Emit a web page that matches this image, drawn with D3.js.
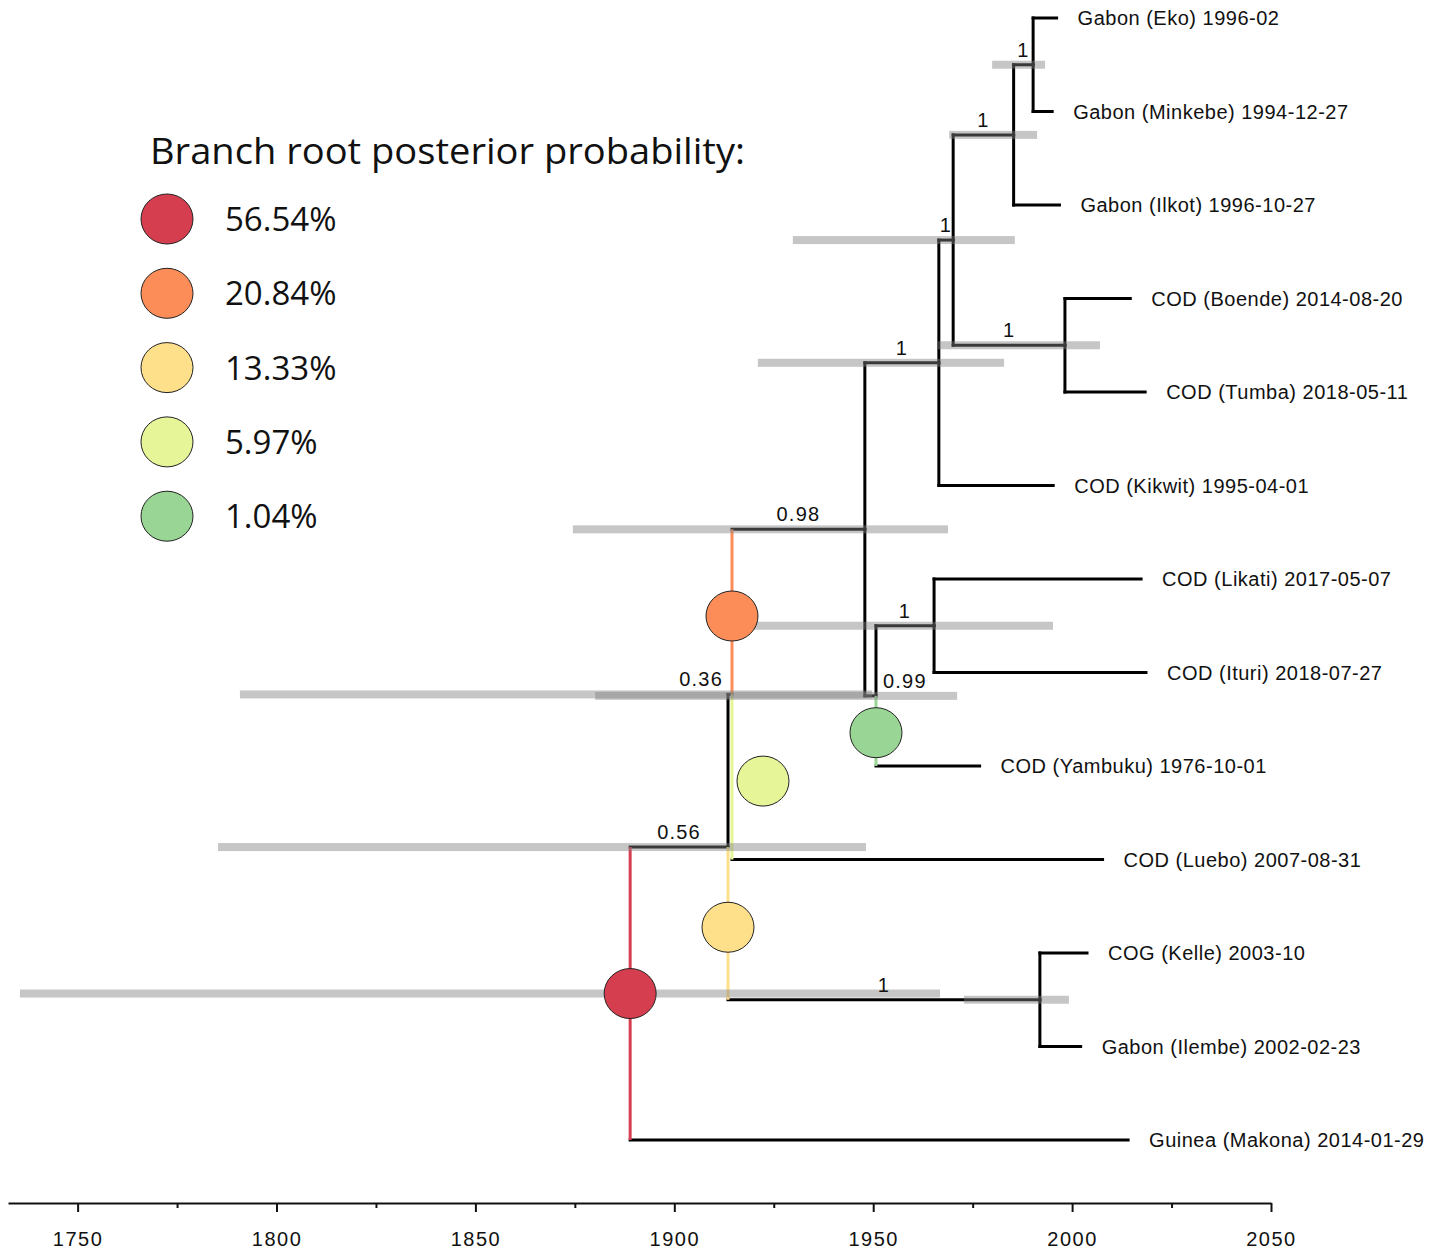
<!DOCTYPE html>
<html>
<head>
<meta charset="utf-8">
<script src="https://cdn.jsdelivr.net/npm/d3@7"></script>
<style>
  body { margin: 0; background: #fff; }
  .tip-label { font-family: Arial, "Liberation Sans", sans-serif; font-size: 20px; letter-spacing: 0.5px; fill: #111; }
  .post-label { font-family: Arial, "Liberation Sans", sans-serif; font-size: 20px; letter-spacing: 1.2px; fill: #111; }
  .axis text { font-family: Arial, "Liberation Sans", sans-serif; font-size: 20px; letter-spacing: 1.5px; fill: #111; }
  .axis path, .axis line { stroke: #111; stroke-width: 2px; }
</style>
</head>
<body>
<div class="chart"></div>
<script>
// Time-scaled tree, root position probabilities

// tips, top to bottom
var tipIds = ["Eko", "Minkebe", "Ilkot", "Boende", "Tumba", "Kikwit", "Likati", "Ituri", "Yambuku", "Luebo", "Kelle", "Ilembe", "Makona"];
var tipLabels = ["Gabon (Eko) 1996-02", "Gabon (Minkebe) 1994-12-27", "Gabon (Ilkot) 1996-10-27",
    "COD (Boende) 2014-08-20", "COD (Tumba) 2018-05-11", "COD (Kikwit) 1995-04-01",
    "COD (Likati) 2017-05-07", "COD (Ituri) 2018-07-27", "COD (Yambuku) 1976-10-01",
    "COD (Luebo) 2007-08-31", "COG (Kelle) 2003-10", "Gabon (Ilembe) 2002-02-23",
    "Guinea (Makona) 2014-01-29"];
var tipYears = [1996.1, 1994.99, 1996.82, 2014.63, 2018.36, 1995.25, 2017.35, 2018.57, 1976.75, 2007.66, 2003.75, 2002.15, 2014.08];

// internal nodes
var nodeIds = ["EM", "EMI", "GBT", "BT", "K", "N098", "LI", "D", "C", "B", "KI", "root"];
var nodeYears = [1990.2, 1985.3, 1970.1, 1998.2, 1966.5, 1947.9, 1965.3, 1950.7, 1914.5, 1913.5, 1991.9, 1888.9];
var nodeChildren = [["Eko", "Minkebe"], ["EM", "Ilkot"], ["EMI", "BT"], ["Boende", "Tumba"], ["GBT", "Kikwit"],
    ["K", "D"], ["Likati", "Ituri"], ["LI", "Yambuku"], ["N098", "Luebo"], ["C", "KI"], ["Kelle", "Ilembe"], ["B", "Makona"]];
var hpdLow = [1979.9, 1969.1, 1929.8, 1966.3, 1921.0, 1874.5, 1917.8, 1880.1, 1790.8, 1785.3, 1972.8, 1735.5];
var hpdHigh = [1993.2, 1991.2, 1985.6, 2007.0, 1982.9, 1968.8, 1995.2, 1971.1, 1949.7, 1948.2, 1999.2, 1966.8];
var posterior = ["1", "1", "1", "1", "1", "0.98", "1", "0.99", "0.36", "0.56", "1", ""];

// root position probabilities
var rootProbs = ["56.54%", "20.84%", "13.33%", "5.97%", "1.04%"];
var rootColors = ["#d53e4f", "#fc8d59", "#fee08b", "#e6f598", "#99d594"];
var rootSegNode = ["root", "C", "B", "C", "D"];
var rootSegChild = [null, "N098", "KI", "Luebo", "Yambuku"];

var axisMajor = [1750, 1800, 1850, 1900, 1950, 2000, 2050];
var axisMinor = [1775, 1825, 1875, 1925, 1975, 2025];

var svgWidth = 1448;
var svgHeight = 1251;

var svg = d3.select(".chart")
    .append("svg")
    .attr("width", svgWidth)
    .attr("height", svgHeight);

var xScale = d3.scaleLinear().domain([1732.5, 2050]).range([8, 1271]);
var yScale = d3.scalePoint().domain(tipIds).range([18, 1140]);

// build the node lookup
var nodes = {};
tipIds.forEach(function(id, i) {
    nodes[id] = { id: id, year: tipYears[i], label: tipLabels[i], tip: true, y: yScale(id) };
});
nodeIds.forEach(function(id, i) {
    nodes[id] = { id: id, year: nodeYears[i], children: nodeChildren[i], lo: hpdLow[i], hi: hpdHigh[i], post: posterior[i], tip: false };
});
nodeIds.forEach(function(id) {
    nodes[id].children.forEach(function(c) { nodes[c].parent = id; });
});

// y of an internal node = mean of its children
function nodeY(id) {
    var n = nodes[id];
    if (n.y === undefined) n.y = (nodeY(n.children[0]) + nodeY(n.children[1])) / 2;
    return n.y;
}
nodeY("root");

function segColor(nodeId, childId) {
    for (var i = 0; i < rootSegNode.length; i++) {
        if (rootSegNode[i] === nodeId && (rootSegChild[i] === null || rootSegChild[i] === childId)) return rootColors[i];
    }
    return "#000";
}

var branches = svg.append("g");

// horizontal branches
Object.keys(nodes).forEach(function(id) {
    var n = nodes[id];
    if (!n.parent) return;
    branches.append("line")
        .attr("x1", xScale(nodes[n.parent].year))
        .attr("x2", xScale(n.year))
        .attr("y1", n.y)
        .attr("y2", n.y)
        .attr("stroke", "#000")
        .attr("stroke-width", 3)
        .attr("stroke-linecap", "square");
});

// vertical connectors, drawn as two halves so they can carry root colours
nodeIds.forEach(function(id) {
    var n = nodes[id];
    n.children.forEach(function(c) {
        var col = segColor(id, c);
        branches.append("line")
            .attr("x1", xScale(n.year))
            .attr("x2", xScale(n.year))
            .attr("y1", n.y)
            .attr("y2", nodes[c].y)
            .attr("stroke", col)
            .attr("stroke-width", 3)
            .attr("stroke-linecap", col === "#000" ? "square" : "butt");
    });
});

// HPD bars
svg.append("g").selectAll("rect")
    .data(nodeIds)
    .enter()
    .append("rect")
    .attr("x", function(id) { return xScale(nodes[id].lo); })
    .attr("width", function(id) { return xScale(nodes[id].hi) - xScale(nodes[id].lo); })
    .attr("y", function(id) { return nodes[id].y - 4; })
    .attr("height", 8)
    .attr("fill", "#808080")
    .attr("fill-opacity", 0.45);

// posterior labels
var labelAnchor = { D: "start", C: "end" };
svg.append("g").selectAll("text")
    .data(nodeIds.filter(function(id) { return nodes[id].post !== ""; }))
    .enter()
    .append("text")
    .attr("class", "post-label")
    .attr("x", function(id) {
        var n = nodes[id], px = xScale(nodes[n.parent].year), nx = xScale(n.year);
        if (labelAnchor[id] === "start") return nx + 7;
        if (labelAnchor[id] === "end") return px - 5;
        return (px + nx) / 2;
    })
    .attr("y", function(id) { return nodes[id].y - 8; })
    .attr("text-anchor", function(id) { return labelAnchor[id] || "middle"; })
    .text(function(id) { return nodes[id].post; });

// tip labels
svg.append("g").selectAll("text")
    .data(tipIds)
    .enter()
    .append("text")
    .attr("class", "tip-label")
    .attr("x", function(id) { return xScale(nodes[id].year) + 21; })
    .attr("y", function(id) { return nodes[id].y + 7; })
    .text(function(id) { return nodes[id].label; });

// root position markers, sitting a little below the middle of their segment
var circleShift = [0, 0, 0, 31, 0];
svg.append("g").selectAll("ellipse")
    .data(rootProbs)
    .enter()
    .append("ellipse")
    .attr("cx", function(d, i) { return xScale(nodes[rootSegNode[i]].year) + circleShift[i]; })
    .attr("cy", function(d, i) {
        var n = nodes[rootSegNode[i]];
        if (rootSegChild[i] === null) return n.y;
        var y0 = Math.min(n.y, nodes[rootSegChild[i]].y), y1 = Math.max(n.y, nodes[rootSegChild[i]].y);
        return y0 + 0.525 * (y1 - y0);
    })
    .attr("rx", 26)
    .attr("ry", 25)
    .attr("fill", function(d, i) { return rootColors[i]; })
    .attr("stroke", "#222")
    .attr("stroke-width", 1);

// legend
var legend = svg.append("g");
legend.append("text")
    .attr("x", 150)
    .attr("y", 164)
    .attr("font-family", "'Open Sans', 'Noto Sans', sans-serif")
    .attr("font-size", 36)
    .attr("textLength", 595)
    .attr("lengthAdjust", "spacingAndGlyphs")
    .attr("fill", "#111")
    .text("Branch root posterior probability:");

legend.selectAll("ellipse")
    .data(rootProbs)
    .enter()
    .append("ellipse")
    .attr("cx", 167)
    .attr("cy", function(d, i) { return 219 + i * 74.3; })
    .attr("rx", 26)
    .attr("ry", 25)
    .attr("fill", function(d, i) { return rootColors[i]; })
    .attr("stroke", "#222")
    .attr("stroke-width", 1);

legend.selectAll("text.leg")
    .data(rootProbs)
    .enter()
    .append("text")
    .attr("class", "leg")
    .attr("x", 225)
    .attr("y", function(d, i) { return 219 + i * 74.3 + 12; })
    .attr("font-family", "'Open Sans', 'Noto Sans', sans-serif")
    .attr("font-size", 33)
    .attr("fill", "#111")
    .text(function(d) { return d; });

// time axis
var bottomAxis = d3.axisBottom(xScale)
    .tickValues(axisMajor)
    .tickSize(9)
    .tickSizeOuter(0)
    .tickPadding(20)
    .tickFormat(d3.format("d"));

var minorAxis = d3.axisBottom(xScale)
    .tickValues(axisMinor)
    .tickSize(5)
    .tickFormat("");

svg.append("g")
    .attr("class", "axis")
    .attr("transform", "translate(0,1203)")
    .call(bottomAxis);

var minorG = svg.append("g")
    .attr("class", "axis")
    .attr("transform", "translate(0,1203)")
    .call(minorAxis);
minorG.select(".domain").remove();
</script>
</body>
</html>
